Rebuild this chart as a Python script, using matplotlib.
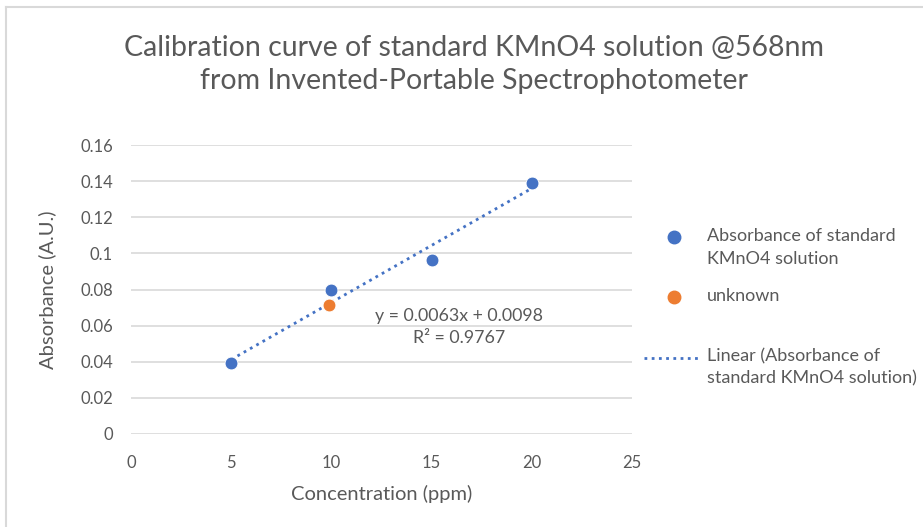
import matplotlib.pyplot as plt
import numpy as np
from matplotlib.lines import Line2D

# standard series
conc = [5, 10, 15, 20]
absorbance = [0.0393, 0.0797, 0.0965, 0.1390]
# unknown sample
unk_conc = [9.9]
unk_abs = [0.0715]

x_ticks = [0, 5, 10, 15, 20, 25]
y_ticks = [0, 0.02, 0.04, 0.06, 0.08, 0.1, 0.12, 0.14, 0.16]
y_ticklabels = ['0', '0.02', '0.04', '0.06', '0.08', '0.1', '0.12', '0.14', '0.16']

BLUE = '#4472C4'
ORANGE = '#ED7D31'
GREY = '#595959'

plt.rcParams['font.family'] = ['Lato', 'DejaVu Sans']

W, H = 923, 527
fig = plt.figure(figsize=(W / 100, H / 100), dpi=100)
ax = fig.add_axes([131 / W, 1 - 434 / H, (632 - 131) / W, (434 - 145) / H])


def fx(px):
    return px / W


def fy(py):
    return 1 - py / H


# chart border (top/left visible in crop)
fig.add_artist(Line2D([fx(6), 1], [fy(7), fy(7)], color='#d9d9d9', lw=1.5))
fig.add_artist(Line2D([fx(6), fx(6)], [0, fy(7)], color='#d9d9d9', lw=1.5))

ax.scatter(conc, absorbance, s=85, color=BLUE, edgecolor='white', linewidth=0.6, zorder=3)
ax.scatter(unk_conc, unk_abs, s=85, color=ORANGE, edgecolor='white', linewidth=0.6, zorder=4)

# linear trendline
m, b = np.polyfit(conc, absorbance, 1)
xs = np.array([conc[0], conc[-1]])
ax.plot(xs, m * xs + b, color=BLUE, lw=2, linestyle=(0, (1, 1.6)), zorder=2)

ax.text(16.35, 0.0592, 'y = 0.0063x + 0.0098\nR² = 0.9767', ha='center', va='center',
        fontsize=12.8, color=GREY, linespacing=1.5)

ax.set_xlim(0, 25)
ax.set_ylim(0, 0.16)
ax.set_xticks(x_ticks)
ax.set_yticks(y_ticks)
ax.set_yticklabels(y_ticklabels)
ax.tick_params(length=0, labelsize=12, labelcolor=GREY)
ax.tick_params(axis='x', pad=15)
ax.tick_params(axis='y', pad=13)
for s in ax.spines.values():
    s.set_visible(False)
ax.grid(axis='y', color='#d9d9d9', lw=1.2)
ax.set_axisbelow(True)

ax.set_xlabel('Concentration (ppm)', fontsize=14.5, color=GREY, labelpad=10)
ax.set_ylabel('Absorbance (A.U.)', fontsize=14.5, color=GREY, labelpad=17)

fig.text(fx(474), fy(48), 'Calibration curve of standard KMnO4 solution @568nm',
         ha='center', va='center', fontsize=20.5, color=GREY)
fig.text(fx(474), fy(81), 'from Invented-Portable Spectrophotometer',
         ha='center', va='center', fontsize=20.5, color=GREY)

# legend drawn by hand to keep Excel's spacing
fig.add_artist(Line2D([fx(674)], [fy(237)], marker='o', color=BLUE, ms=9, ls='none'))
fig.add_artist(Line2D([fx(674)], [fy(297)], marker='o', color=ORANGE, ms=9, ls='none'))
fig.add_artist(Line2D([fx(644), fx(698)], [fy(358), fy(358)], color=BLUE, lw=2,
                      ls=(0, (1, 1.6))))
leg_labels = ['Absorbance of standard\nKMnO4 solution', 'unknown',
              'Linear (Absorbance of\nstandard KMnO4 solution)']
leg_y = [237, 297, 357]
for lab, y in zip(leg_labels, leg_y):
    fig.text(fx(707), fy(y - 9), lab, ha='left', va='top', fontsize=13,
             color=GREY, linespacing=1.5)

fig.savefig('out.png', dpi=100)
